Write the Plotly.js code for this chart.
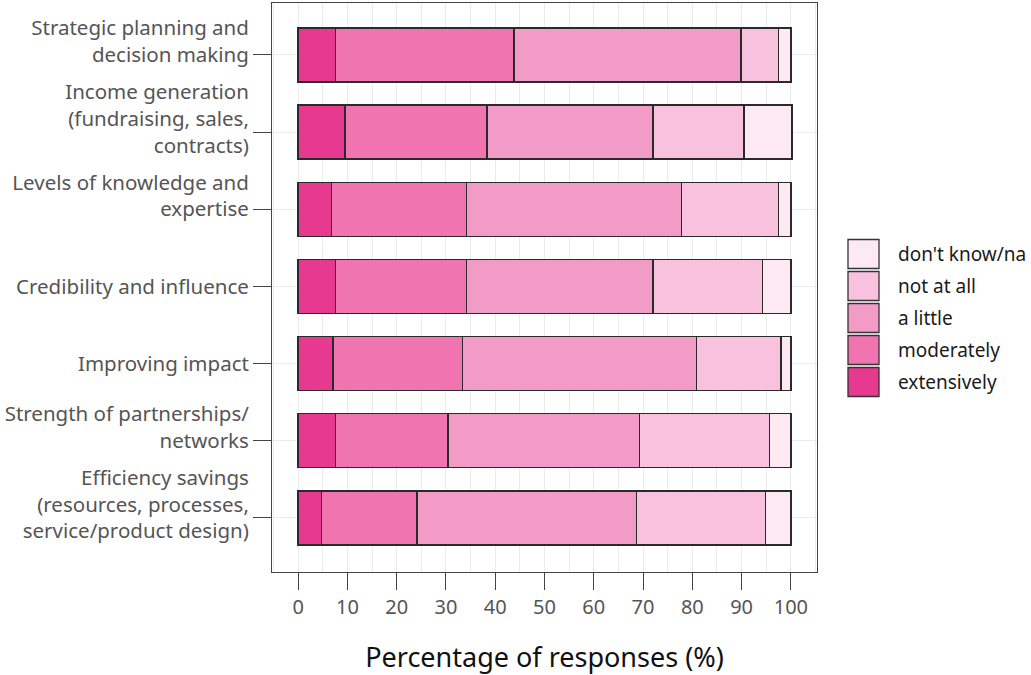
<!DOCTYPE html>
<html>
<head>
<meta charset="utf-8">
<script src="https://cdn.plot.ly/plotly-3.0.1.min.js"></script>
<style>html,body{margin:0;padding:0;background:#fff;}#chart{width:1031px;height:675px;}</style>
</head>
<body>
<div id="chart"></div>
<script>
// ---- data ----
var categories = [
  "Strategic planning and<br>decision making",
  "Income generation<br>(fundraising, sales,<br>contracts)",
  "Levels of knowledge and<br>expertise",
  "Credibility and influence",
  "Improving impact",
  "Strength of partnerships/<br>networks",
  "Efficiency savings<br>(resources, processes,<br>service/product design)"
];
var seriesNames = ["extensively", "moderately", "a little", "not at all", "don't know/na"];
var extensively = [7.6, 9.5, 6.8, 7.6, 7.1, 7.6, 4.8];
var moderately  = [36.2, 28.8, 27.4, 26.6, 26.3, 22.8, 19.3];
var aLittle     = [46.1, 33.7, 43.6, 37.8, 47.4, 38.9, 44.6];
var notAtAll    = [7.6, 18.5, 19.7, 22.3, 17.2, 26.4, 26.2];
var dontKnow    = [2.5, 9.7, 2.5, 5.7, 2.0, 4.3, 5.1];
var xTicks = [0, 10, 20, 30, 40, 50, 60, 70, 80, 90, 100];

// ---- styles ----
var colors = ["#e6398f", "#ef74b0", "#f39bc7", "#f8c2de", "#fce9f2"];
var FONT = "'Noto Sans', 'Open Sans', 'DejaVu Sans', sans-serif";
var values = [extensively, moderately, aLittle, notAtAll, dontKnow];

// multi-line labels: add an empty trailing line so text sits slightly above tick
var tickText = categories.map(function (c) { return c.indexOf("<br>") >= 0 ? c + "<br> " : c; });

var traces = values.map(function (v, i) {
  return {
    type: "bar",
    orientation: "h",
    name: seriesNames[i],
    x: v,
    y: categories,
    marker: { color: colors[i], line: { color: "#2a2a2a", width: 1.3 } },
    hoverinfo: "x+name"
  };
});

var L = 272, R = 817, T = 3, B = 572;
function px(x) { return (x - L) / (R - L); }
function py(y) { return (B - y) / (B - T); }

var shapes = [], annotations = [];
var legendOrder = [4, 3, 2, 1, 0];
legendOrder.forEach(function (si, k) {
  var cy = 254 + k * 32;
  shapes.push({
    type: "rect", xref: "paper", yref: "paper",
    x0: px(848), x1: px(879), y0: py(cy + 14.5), y1: py(cy - 14.5),
    fillcolor: colors[si], line: { color: "#333", width: 1.3 }
  });
  annotations.push({
    xref: "paper", yref: "paper", x: px(896), y: py(cy),
    xanchor: "left", yanchor: "middle", showarrow: false,
    text: seriesNames[si],
    font: { family: FONT, size: 19, color: "#1a1a1a" }
  });
});

var layout = {
  width: 1031, height: 675,
  margin: { l: L, r: 1031 - R, t: T, b: 675 - B },
  paper_bgcolor: "#fff", plot_bgcolor: "#fff",
  barmode: "stack",
  bargap: 0.3,
  showlegend: false,
  font: { family: FONT },
  xaxis: {
    range: [-5.3, 105.3],
    tickvals: xTicks,
    ticktext: xTicks.map(String),
    ticks: "outside", ticklen: 17, tickwidth: 1, tickcolor: "#444",
    tickfont: { family: FONT, size: 20, color: "#555" },
    showgrid: true, gridcolor: "#ebebeb", gridwidth: 1,
    minor: { dtick: 5, tick0: 0, showgrid: true, gridcolor: "#ebebeb", gridwidth: 1, ticks: "" },
    showline: true, linecolor: "#444", linewidth: 1, mirror: true,
    zeroline: false,
    title: { text: "Percentage of responses (%)", font: { family: FONT, size: 27, color: "#111" }, standoff: 30 },
    fixedrange: true
  },
  yaxis: {
    type: "category",
    categoryarray: categories,
    tickvals: categories,
    ticktext: tickText,
    range: [6.70, -0.673],
    ticks: "outside", ticklen: 18, tickwidth: 1, tickcolor: "#444",
    tickfont: { family: FONT, size: 20.5, color: "#555" },
    showgrid: true, gridcolor: "#ebebeb", gridwidth: 1,
    showline: true, linecolor: "#444", linewidth: 1, mirror: true,
    zeroline: false,
    fixedrange: true
  },
  shapes: shapes,
  annotations: annotations
};

Plotly.newPlot("chart", traces, layout, { displayModeBar: false, staticPlot: false });
</script>
</body>
</html>
